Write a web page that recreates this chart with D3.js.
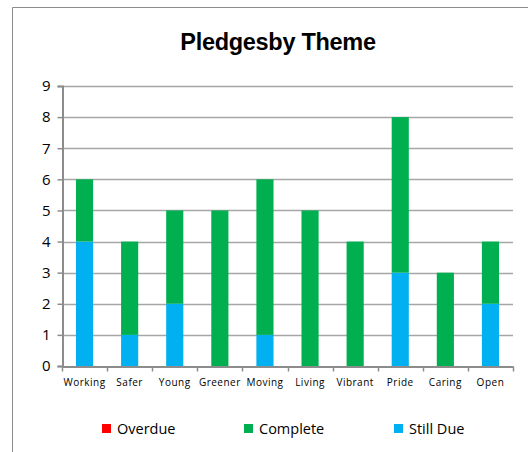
<!DOCTYPE html>
<html>
<head>
<meta charset="utf-8">
<script src="https://cdn.jsdelivr.net/npm/d3@7"></script>
<style>
  body { margin: 0; background: #fff; }
  svg { display: block; }
</style>
</head>
<body>
<svg></svg>
<script>
const categories = ["Working", "Safer", "Young", "Greener", "Moving", "Living", "Vibrant", "Pride", "Caring", "Open"];
const stillDue = [4, 1, 2, 0, 1, 0, 0, 3, 0, 2];
const complete = [2, 3, 3, 5, 5, 5, 4, 5, 3, 2];
const overdue = [0, 0, 0, 0, 0, 0, 0, 0, 0, 0];
const yTicks = [0, 1, 2, 3, 4, 5, 6, 7, 8, 9];

const width = 528,
    height = 452;
const plotLeft = 62,
    plotRight = 513,
    plotTop = 86,
    plotBottom = 366;

const seriesKeys = ["stillDue", "complete", "overdue"];
const colors = { stillDue: "#00b0f0", complete: "#00b050", overdue: "#ff0000" };
const legendItems = [
    { key: "overdue", label: "Overdue", x: 102 },
    { key: "complete", label: "Complete", x: 244 },
    { key: "stillDue", label: "Still Due", x: 394 },
];

const rows = categories.map((c, i) => ({
    name: c,
    stillDue: stillDue[i],
    complete: complete[i],
    overdue: overdue[i],
}));

const svg = d3.select("svg").attr("width", width).attr("height", height);

// chart frame (only top and left edges are visible in the crop)
svg.append("path")
    .attr("d", `M12.5,${height} V7.5 H${width}`)
    .attr("fill", "none")
    .attr("stroke", "#8c8c8c")
    .attr("stroke-width", 1);

svg.append("text")
    .attr("x", 278)
    .attr("y", 50)
    .attr("text-anchor", "middle")
    .attr("font-family", "Liberation Sans, Arial, sans-serif")
    .attr("font-weight", "bold")
    .attr("font-size", 23.5)
    .attr("letter-spacing", -0.3)
    .text("Pledgesby Theme");

const xScale = d3.scaleBand().domain(categories).range([plotLeft, plotRight]).paddingInner(0.62).paddingOuter(0.31);
const yScale = d3.scaleLinear().domain([0, 9]).range([plotBottom, plotTop]);

// gridlines
svg.append("g")
    .selectAll("line")
    .data(yTicks.filter((t) => t > 0))
    .enter()
    .append("line")
    .attr("x1", plotLeft)
    .attr("x2", plotRight)
    .attr("y1", (d) => Math.round(yScale(d)) + 0.5)
    .attr("y2", (d) => Math.round(yScale(d)) + 0.5)
    .attr("stroke", "#a6a6a6")
    .attr("stroke-width", 1.5);

const stack = d3.stack().keys(seriesKeys);
const layers = stack(rows);

svg.append("g")
    .selectAll("g")
    .data(layers)
    .enter()
    .append("g")
    .attr("fill", (d) => colors[d.key])
    .selectAll("rect")
    .data((d) => d)
    .enter()
    .append("rect")
    .attr("x", (d) => xScale(d.data.name))
    .attr("width", xScale.bandwidth())
    .attr("y", (d) => yScale(d[1]))
    .attr("height", (d) => yScale(d[0]) - yScale(d[1]));

// y axis
const yAxis = d3.axisLeft(yScale).tickValues(yTicks).tickSize(5).tickPadding(7);
const yg = svg.append("g").attr("transform", `translate(${plotLeft + 0.5},0)`).call(yAxis);
yg.select(".domain").attr("stroke", "#8c8c8c").attr("stroke-width", 2);
yg.selectAll(".tick line").attr("stroke", "#8c8c8c").attr("stroke-width", 1.5);
yg.selectAll(".tick text")
    .attr("font-family", "Open Sans, sans-serif")
    .attr("font-size", 15)
    .attr("fill", "#000");

// x axis with ticks at category boundaries
const xAxis = d3.axisBottom(xScale).tickSize(0).tickPadding(12);
const xg = svg.append("g").attr("transform", `translate(0,${plotBottom + 0.5})`).call(xAxis);
xg.select(".domain").attr("stroke", "#8c8c8c").attr("stroke-width", 2);
xg.selectAll(".tick text")
    .attr("font-family", "Open Sans, sans-serif")
    .attr("font-size", 10)
    .attr("letter-spacing", 0.5)
    .attr("fill", "#000");

const step = xScale.step();
xg.selectAll(".boundary")
    .data(d3.range(categories.length + 1))
    .enter()
    .append("line")
    .attr("x1", (i) => Math.round(plotLeft + i * step) + 0.5)
    .attr("x2", (i) => Math.round(plotLeft + i * step) + 0.5)
    .attr("y1", 0)
    .attr("y2", 5)
    .attr("stroke", "#8c8c8c")
    .attr("stroke-width", 1.5);

// legend
const legend = svg.append("g")
    .selectAll("g")
    .data(legendItems)
    .enter()
    .append("g")
    .attr("transform", (d) => `translate(${d.x},424)`);

legend.append("rect")
    .attr("width", 9)
    .attr("height", 9)
    .attr("fill", (d) => colors[d.key]);

legend.append("text")
    .attr("x", 15)
    .attr("y", 10)
    .attr("font-family", "Open Sans, sans-serif")
    .attr("font-size", 14.5)
    .attr("fill", "#000")
    .text((d) => d.label);
</script>
</body>
</html>
